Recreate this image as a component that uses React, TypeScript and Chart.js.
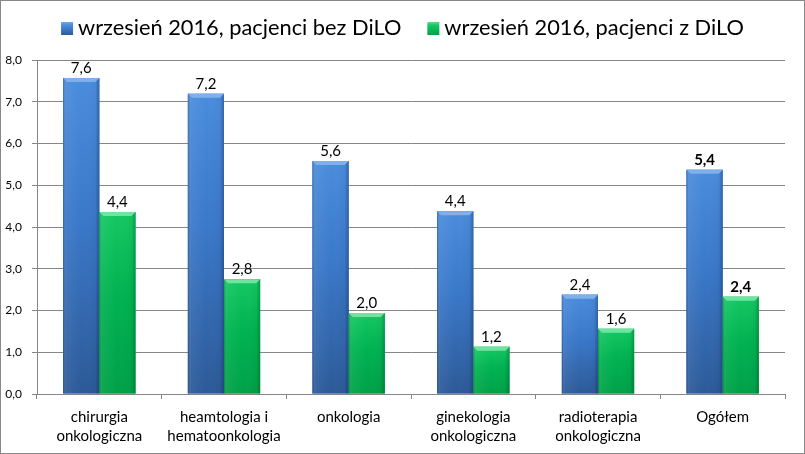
import React, { useEffect, useRef } from "react";
import { Chart, registerables } from "chart.js";

Chart.register(...registerables);

const categories: string[][] = [
  ["chirurgia", "onkologiczna"],
  ["heamtologia i", "hematoonkologia"],
  ["onkologia"],
  ["ginekologia", "onkologiczna"],
  ["radioterapia", "onkologiczna"],
  ["Ogółem"],
];
const seriesNames = ["wrzesień 2016, pacjenci bez DiLO", "wrzesień 2016, pacjenci z DiLO"];
const bezDiLO = [7.57, 7.19, 5.58, 4.38, 2.38, 5.37];
const zDiLO = [4.36, 2.75, 1.94, 1.13, 1.56, 2.33];
const bezDiLOLabels = ["7,6", "7,2", "5,6", "4,4", "2,4", "5,4"];
const zDiLOLabels = ["4,4", "2,8", "2,0", "1,2", "1,6", "2,4"];
const boldCategory = 5;
const yMin = 0;
const yMax = 8;
const yStep = 1;

const FONT = "Lato, 'Open Sans', sans-serif";
const GRID = "#868686";

const PAL = [
  { mid: "#3a78c9", top: "#4a8cdc", bottom: "#2c5a98", rim: "#7fb0ec", edge: "rgba(15,40,90,0.35)" },
  { mid: "#00b351", top: "#14c862", bottom: "#00a148", rim: "#6fe3a0", edge: "rgba(0,70,30,0.30)" },
];

const labelSets = [bezDiLOLabels, zDiLOLabels];

const barStylePlugin = {
  id: "barStyle",
  afterDatasetsDraw(chart: any) {
    const ctx = chart.ctx as CanvasRenderingContext2D;
    chart.data.datasets.forEach((_ds: any, di: number) => {
      const meta = chart.getDatasetMeta(di);
      const p = PAL[di];
      meta.data.forEach((el: any, i: number) => {
        const { x, y, width, base } = el.getProps(["x", "y", "width", "base"], true);
        const l = x - width / 2;
        const r = x + width / 2;
        const h = base - y;
        ctx.save();
        const g = ctx.createLinearGradient(0, y, 0, base);
        g.addColorStop(0, p.top);
        g.addColorStop(0.45, p.mid);
        g.addColorStop(1, p.bottom);
        ctx.fillStyle = g;
        ctx.fillRect(l, y, width, h);
        const hg = ctx.createLinearGradient(l, 0, r, 0);
        hg.addColorStop(0, p.edge);
        hg.addColorStop(0.09, "rgba(255,255,255,0.06)");
        hg.addColorStop(0.5, "rgba(255,255,255,0)");
        hg.addColorStop(0.9, "rgba(0,0,0,0.03)");
        hg.addColorStop(1, p.edge);
        ctx.fillStyle = hg;
        ctx.fillRect(l, y, width, h);
        const bv = Math.min(4, h / 2);
        ctx.beginPath();
        ctx.moveTo(l, y);
        ctx.lineTo(r, y);
        ctx.lineTo(r - bv, y + bv);
        ctx.lineTo(l + bv, y + bv);
        ctx.closePath();
        ctx.fillStyle = p.rim;
        ctx.fill();
        ctx.restore();

        ctx.save();
        ctx.fillStyle = "#000";
        ctx.font = `${i === boldCategory ? "bold " : ""}15px ${FONT}`;
        ctx.textAlign = "center";
        ctx.textBaseline = "alphabetic";
        ctx.fillText(labelSets[di][i], x, y - 5);
        ctx.restore();
      });
    });
  },
};

const legendPlugin = {
  id: "customLegend",
  afterDraw(chart: any) {
    const ctx = chart.ctx as CanvasRenderingContext2D;
    ctx.save();
    ctx.font = `21.8px ${FONT}`;
    const box = 12;
    const gapBox = 5;
    const gapItem = 26;
    const items = chart.data.datasets.map((d: any) => d.label as string);
    const widths = items.map((t: string) => box + gapBox + ctx.measureText(t).width);
    const total = widths.reduce((a: number, b: number) => a + b, 0) + gapItem * (items.length - 1);
    let x = chart.width / 2 - total / 2;
    const cy = 27;
    items.forEach((t: string, i: number) => {
      const p = PAL[i];
      const g = ctx.createLinearGradient(0, cy - 7, 0, cy + 7);
      g.addColorStop(0, p.rim);
      g.addColorStop(0.3, p.top);
      g.addColorStop(1, p.bottom);
      ctx.fillStyle = g;
      ctx.fillRect(x, cy - 6, box, 13);
      ctx.fillStyle = "#000";
      ctx.textBaseline = "middle";
      ctx.textAlign = "left";
      ctx.fillText(t, x + box + gapBox, cy);
      x += widths[i] + gapItem;
    });
    ctx.restore();
  },
};

export default function App() {
  const ref = useRef<HTMLCanvasElement | null>(null);
  useEffect(() => {
    document.body.style.margin = "0";
    const canvas = ref.current;
    if (!canvas) return;
    const chart = new Chart(canvas, {
      type: "bar",
      data: {
        labels: categories,
        datasets: [
          { label: seriesNames[0], data: bezDiLO, backgroundColor: PAL[0].mid, borderWidth: 0 },
          { label: seriesNames[1], data: zDiLO, backgroundColor: PAL[1].mid, borderWidth: 0 },
        ],
      },
      options: {
        responsive: false,
        devicePixelRatio: 1,
        animation: false,
        layout: { padding: { top: 59, right: 19, left: 0, bottom: 0 } },
        datasets: { bar: { barPercentage: 1, categoryPercentage: 0.58 } },
        plugins: {
          legend: { display: false },
          tooltip: { enabled: false },
        },
        scales: {
          x: {
            offset: true,
            grid: { display: true, drawOnChartArea: false, drawTicks: true, tickLength: 5, color: GRID, offset: true },
            border: { display: true, color: GRID },
            ticks: {
              autoSkip: false,
              maxRotation: 0,
              color: "#000",
              padding: 9,
              font: { family: FONT, size: 15, lineHeight: 1.27 },
            },
            afterFit: (s: any) => {
              s.height = 59;
            },
          },
          y: {
            min: yMin,
            max: yMax,
            grid: { color: GRID, tickLength: 5 },
            border: { display: true, color: GRID },
            ticks: {
              stepSize: yStep,
              color: "#000",
              padding: 10,
              font: { family: FONT, size: 12 },
              callback: (v: any) => Number(v).toFixed(1).replace(".", ","),
            },
            afterFit: (s: any) => {
              s.width = 36;
            },
          },
        },
      },
      plugins: [barStylePlugin, legendPlugin],
    });
    return () => chart.destroy();
  }, []);
  return (
    <div
      style={{
        position: "absolute",
        left: 0,
        top: 0,
        width: 805,
        height: 454,
        border: "1px solid #888",
        boxSizing: "border-box",
        background: "#fff",
      }}
    >
      <canvas ref={ref} width={803} height={452} style={{ display: "block", width: 803, height: 452 }} />
    </div>
  );
}
